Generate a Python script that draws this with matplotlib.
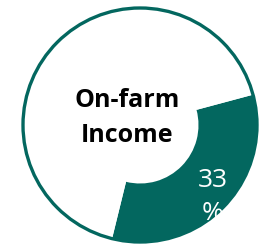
import matplotlib.pyplot as plt
from matplotlib.patches import Circle

# Data
labels = ["On-farm Income", "Other"]
shares = [33, 67]
value_label = "33\n%"
center_label = "On-farm\nIncome"

teal = "#03675f"

fig = plt.figure(figsize=(2.65, 2.44), dpi=100)
ax = fig.add_axes([0, 0, 1, 1])

cx, cy, r = 140, 119, 117

ax.pie(shares, colors=[teal, "white"], startangle=15, counterclock=False,
       center=(cx, cy), radius=r, frame=True,
       wedgeprops={"width": r * 0.5, "linewidth": 0})
ax.set_xlim(0, 265)
ax.set_ylim(0, 244)
ax.set_aspect("equal")
ax.axis("off")

# outer ring outline
ax.add_patch(Circle((cx, cy), r, fill=False, edgecolor=teal, linewidth=2.4))

# labels
ax.text(127, 126, center_label, ha="center", va="center", fontsize=18,
        fontweight="bold", family="Open Sans", linespacing=1.5)
ax.text(213, 47, value_label, ha="center", va="center", fontsize=19,
        color="white", family="Open Sans", linespacing=1.4)

fig.savefig("out.png", dpi=100)
